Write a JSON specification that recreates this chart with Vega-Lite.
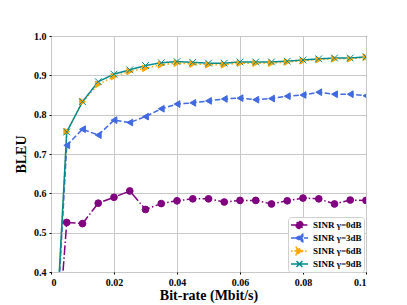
{
  "$schema": "https://vega.github.io/schema/vega-lite/v6.json",
  "width": 315,
  "height": 236,
  "autosize": "none",
  "padding": {"left": 51, "top": 36, "right": 41, "bottom": 33},
  "background": "white",
  "config": {
    "font": "Liberation Serif",
    "view": {"stroke": "black", "strokeWidth": 1},
    "axis": {"labelFont": "Liberation Serif", "labelFontWeight": "bold", "labelFontSize": 10, "labelColor": "black", "titleFont": "Liberation Serif", "titleFontWeight": "bold", "titleFontSize": 14, "titleColor": "black", "gridColor": "#c8c8c8", "gridWidth": 1, "domain": false, "tickColor": "black", "tickSize": 2, "labelPadding": 3}
  },
  "data": {"values": [
    {"x":0,"y":0,"s":"SINR γ=0dB"},{"x":0.005,"y":0.526,"s":"SINR γ=0dB"},{"x":0.01,"y":0.523,"s":"SINR γ=0dB"},{"x":0.015,"y":0.575,"s":"SINR γ=0dB"},{"x":0.02,"y":0.59,"s":"SINR γ=0dB"},{"x":0.025,"y":0.606,"s":"SINR γ=0dB"},{"x":0.03,"y":0.559,"s":"SINR γ=0dB"},{"x":0.035,"y":0.574,"s":"SINR γ=0dB"},{"x":0.04,"y":0.581,"s":"SINR γ=0dB"},{"x":0.045,"y":0.586,"s":"SINR γ=0dB"},{"x":0.05,"y":0.586,"s":"SINR γ=0dB"},{"x":0.055,"y":0.578,"s":"SINR γ=0dB"},{"x":0.06,"y":0.582,"s":"SINR γ=0dB"},{"x":0.065,"y":0.582,"s":"SINR γ=0dB"},{"x":0.07,"y":0.573,"s":"SINR γ=0dB"},{"x":0.075,"y":0.581,"s":"SINR γ=0dB"},{"x":0.08,"y":0.588,"s":"SINR γ=0dB"},{"x":0.085,"y":0.586,"s":"SINR γ=0dB"},{"x":0.09,"y":0.573,"s":"SINR γ=0dB"},{"x":0.095,"y":0.583,"s":"SINR γ=0dB"},{"x":0.1,"y":0.582,"s":"SINR γ=0dB"},
    {"x":0,"y":0,"s":"SINR γ=3dB"},{"x":0.005,"y":0.722,"s":"SINR γ=3dB"},{"x":0.01,"y":0.763,"s":"SINR γ=3dB"},{"x":0.015,"y":0.748,"s":"SINR γ=3dB"},{"x":0.02,"y":0.786,"s":"SINR γ=3dB"},{"x":0.025,"y":0.78,"s":"SINR γ=3dB"},{"x":0.03,"y":0.795,"s":"SINR γ=3dB"},{"x":0.035,"y":0.815,"s":"SINR γ=3dB"},{"x":0.04,"y":0.827,"s":"SINR γ=3dB"},{"x":0.045,"y":0.83,"s":"SINR γ=3dB"},{"x":0.05,"y":0.835,"s":"SINR γ=3dB"},{"x":0.055,"y":0.84,"s":"SINR γ=3dB"},{"x":0.06,"y":0.842,"s":"SINR γ=3dB"},{"x":0.065,"y":0.838,"s":"SINR γ=3dB"},{"x":0.07,"y":0.841,"s":"SINR γ=3dB"},{"x":0.075,"y":0.847,"s":"SINR γ=3dB"},{"x":0.08,"y":0.85,"s":"SINR γ=3dB"},{"x":0.085,"y":0.857,"s":"SINR γ=3dB"},{"x":0.09,"y":0.852,"s":"SINR γ=3dB"},{"x":0.095,"y":0.852,"s":"SINR γ=3dB"},{"x":0.1,"y":0.848,"s":"SINR γ=3dB"},
    {"x":0,"y":0,"s":"SINR γ=6dB"},{"x":0.005,"y":0.757,"s":"SINR γ=6dB"},{"x":0.01,"y":0.833,"s":"SINR γ=6dB"},{"x":0.015,"y":0.877,"s":"SINR γ=6dB"},{"x":0.02,"y":0.897,"s":"SINR γ=6dB"},{"x":0.025,"y":0.91,"s":"SINR γ=6dB"},{"x":0.03,"y":0.918,"s":"SINR γ=6dB"},{"x":0.035,"y":0.927,"s":"SINR γ=6dB"},{"x":0.04,"y":0.931,"s":"SINR γ=6dB"},{"x":0.045,"y":0.929,"s":"SINR γ=6dB"},{"x":0.05,"y":0.927,"s":"SINR γ=6dB"},{"x":0.055,"y":0.927,"s":"SINR γ=6dB"},{"x":0.06,"y":0.931,"s":"SINR γ=6dB"},{"x":0.065,"y":0.931,"s":"SINR γ=6dB"},{"x":0.07,"y":0.931,"s":"SINR γ=6dB"},{"x":0.075,"y":0.934,"s":"SINR γ=6dB"},{"x":0.08,"y":0.937,"s":"SINR γ=6dB"},{"x":0.085,"y":0.94,"s":"SINR γ=6dB"},{"x":0.09,"y":0.942,"s":"SINR γ=6dB"},{"x":0.095,"y":0.942,"s":"SINR γ=6dB"},{"x":0.1,"y":0.946,"s":"SINR γ=6dB"},
    {"x":0,"y":0,"s":"SINR γ=9dB"},{"x":0.005,"y":0.756,"s":"SINR γ=9dB"},{"x":0.01,"y":0.833,"s":"SINR γ=9dB"},{"x":0.015,"y":0.884,"s":"SINR γ=9dB"},{"x":0.02,"y":0.903,"s":"SINR γ=9dB"},{"x":0.025,"y":0.914,"s":"SINR γ=9dB"},{"x":0.03,"y":0.925,"s":"SINR γ=9dB"},{"x":0.035,"y":0.932,"s":"SINR γ=9dB"},{"x":0.04,"y":0.935,"s":"SINR γ=9dB"},{"x":0.045,"y":0.933,"s":"SINR γ=9dB"},{"x":0.05,"y":0.931,"s":"SINR γ=9dB"},{"x":0.055,"y":0.931,"s":"SINR γ=9dB"},{"x":0.06,"y":0.934,"s":"SINR γ=9dB"},{"x":0.065,"y":0.934,"s":"SINR γ=9dB"},{"x":0.07,"y":0.934,"s":"SINR γ=9dB"},{"x":0.075,"y":0.936,"s":"SINR γ=9dB"},{"x":0.08,"y":0.939,"s":"SINR γ=9dB"},{"x":0.085,"y":0.942,"s":"SINR γ=9dB"},{"x":0.09,"y":0.944,"s":"SINR γ=9dB"},{"x":0.095,"y":0.944,"s":"SINR γ=9dB"},{"x":0.1,"y":0.947,"s":"SINR γ=9dB"}
  ]},
  "encoding": {
    "x": {"field": "x", "type": "quantitative", "scale": {"domain": [0, 0.1], "nice": false, "zero": false}, "axis": {"values": [0, 0.02, 0.04, 0.06, 0.08, 0.1], "format": "~f", "title": "Bit-rate (Mbit/s)", "titlePadding": 1}},
    "y": {"field": "y", "type": "quantitative", "scale": {"domain": [0.4, 1.0], "nice": false, "zero": false}, "axis": {"values": [0.4, 0.5, 0.6, 0.7, 0.8, 0.9, 1.0], "format": ".1f", "title": "BLEU", "titlePadding": 5}}
  },
  "layer": [
    {
      "mark": {"type": "line", "clip": true},
      "encoding": {
        "color": {"field": "s", "type": "nominal", "scale": {"domain": ["SINR γ=0dB", "SINR γ=3dB", "SINR γ=6dB", "SINR γ=9dB"], "range": ["#800080", "#4169e1", "#ffa500", "#008b8b"]}, "legend": null},
        "strokeDash": {"field": "s", "type": "nominal", "scale": {"domain": ["SINR γ=0dB", "SINR γ=3dB", "SINR γ=6dB", "SINR γ=9dB"], "range": [[9.6, 2.4, 1.5, 2.4], [5.5, 2.4], [1.5, 2.5], [1, 0]]}, "legend": null},
        "strokeWidth": {"field": "s", "type": "nominal", "scale": {"range": [1.5, 1.5]},
          "legend": {"title": null, "orient": "none", "legendX": 237, "legendY": 181, "padding": 2, "rowPadding": -1, "fillColor": "white", "strokeColor": "#d0d0d0", "cornerRadius": 3, "symbolSize": 100, "labelOffset": 11, "labelFont": "Liberation Serif", "labelFontWeight": "bold", "labelFontSize": 9, "labelColor": "black",
            "encode": {"symbols": {"update": {
              "shape": {"signal": "['M-1,0L2.4,0M0,0A0.7,0.7 0 1,0 1.4,0A0.7,0.7 0 1,0 0,0Z','M-1,0L2.4,0M-0.05,0L1.35,-0.75L1.35,0.75Z','M-1,0L2.4,0M1.45,0L0.05,-0.75L0.05,0.75Z','M-1,0L2.4,0M0.1,-0.6L1.3,0.6M0.1,0.6L1.3,-0.6'][datum.index]"},
              "fill": {"signal": "['#800080','#4169e1','#ffa500','transparent'][datum.index]"},
              "stroke": {"signal": "['#800080','#4169e1','#ffa500','#008b8b'][datum.index]"},
              "strokeDash": {"signal": "[[6,1.6,1.2,1.6],[4.5,2],[1.5,2],[1,0]][datum.index]"},
              "opacity": {"value": 1}
            }}}}}
      }
    },
    {
      "mark": {"type": "point", "clip": true, "filled": true, "strokeWidth": 1, "opacity": 1},
      "encoding": {
        "color": {"field": "s", "type": "nominal", "legend": null},
        "stroke": {"field": "s", "type": "nominal", "scale": {"domain": ["SINR γ=0dB", "SINR γ=3dB", "SINR γ=6dB", "SINR γ=9dB"], "range": ["#800080", "#4169e1", "#ffa500", "#008b8b"]}, "legend": null},
        "shape": {"field": "s", "type": "nominal", "scale": {"domain": ["SINR γ=0dB", "SINR γ=3dB", "SINR γ=6dB", "SINR γ=9dB"], "range": ["circle", "triangle-left", "triangle-right", "M-1,-1L1,1M-1,1L1,-1"]}, "legend": null},
        "size": {"value": 45}
      }
    }
  ]
}
